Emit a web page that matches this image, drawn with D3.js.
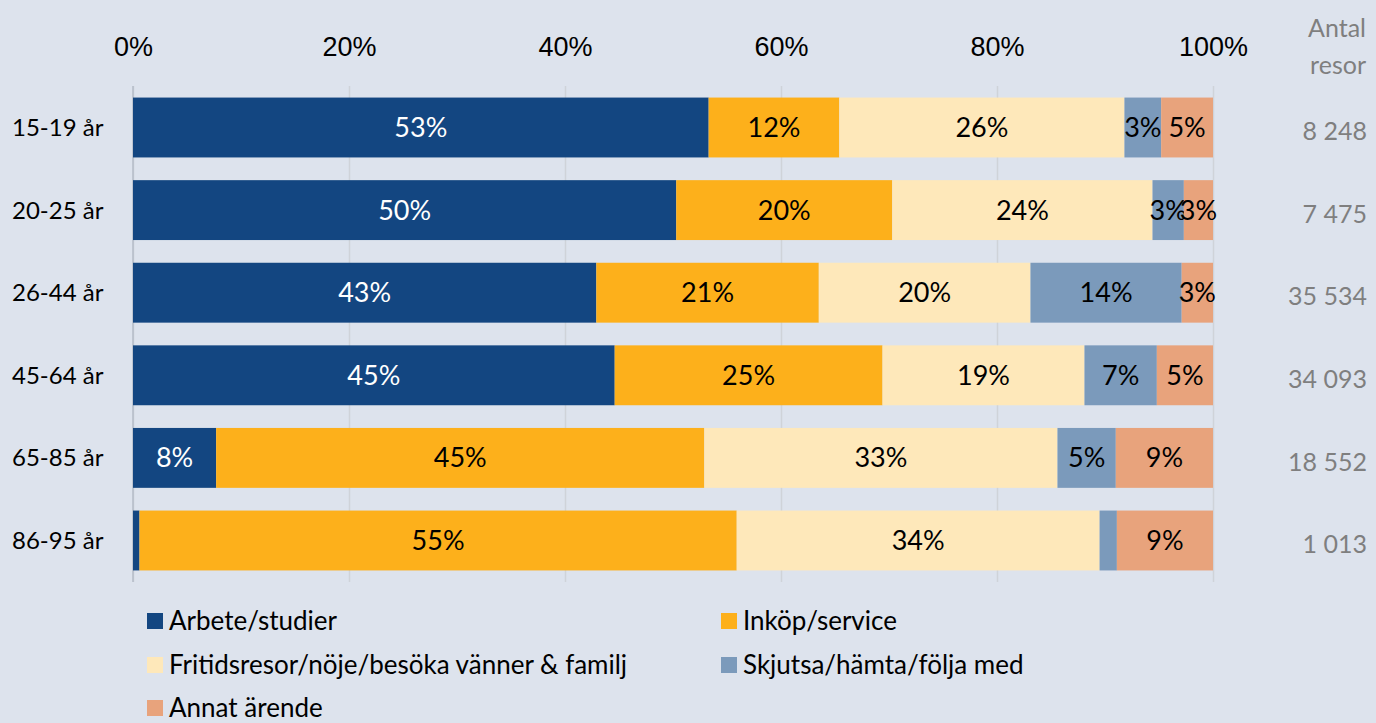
<!DOCTYPE html>
<html>
<head>
<meta charset="utf-8">
<script src="https://cdn.jsdelivr.net/npm/d3@7"></script>
<style>
	body { margin: 0; background: #dde3ed; }
	svg { display: block; font-family: Lato, 'Open Sans', sans-serif; }
	.grid line { stroke: #cfd3d9; stroke-width: 1.5; }
	.grid path { display: none; }
	.x.axis path, .x.axis line { display: none; }
</style>
</head>
<body>
<script>
// age groups and number of trips
var ageGroups = ['15-19 år', '20-25 år', '26-44 år', '45-64 år', '65-85 år', '86-95 år'];
var antalResor = ['8 248', '7 475', '35 534', '34 093', '18 552', '1 013'];

// trip purposes (percent of trips)
var purposes = ['Arbete/studier', 'Inköp/service', 'Fritidsresor/nöje/besöka vänner & familj', 'Skjutsa/hämta/följa med', 'Annat ärende'];
var arbete   = [53.3, 50.3, 42.9, 44.6, 7.7, 0.6];
var inkop    = [12.1, 20.0, 20.6, 24.8, 45.2, 55.3];
var fritid   = [26.4, 24.1, 19.6, 18.7, 32.7, 33.6];
var skjutsa  = [3.4, 2.9, 14.0, 6.7, 5.4, 1.6];
var annat    = [4.8, 2.7, 2.9, 5.2, 9.0, 8.9];
var xTicks = [0, 20, 40, 60, 80, 100];

var colors = ['#134681', '#fdb01b', '#fee8ba', '#7b9abb', '#e8a37c'];
var labelColors = ['#ffffff', '#000000', '#000000', '#000000', '#000000'];

function StackedBarChart() {
	this.chart = {};
	this.props = {};
	this.props.width = 1376;
	this.props.height = 723;
	this.props.plot = { left: 133, right: 1213, top: 86, bottom: 582 };

	var series = [arbete, inkop, fritid, skjutsa, annat];
	this.rows = ageGroups.map(function(g, i) {
		var row = { group: g };
		purposes.forEach(function(p, j) { row[p] = series[j][i]; });
		return row;
	});
}

StackedBarChart.prototype.createChart = function() {
	this.chart.svg = d3.select('body')
		.append('svg')
		.attr('width', this.props.width)
		.attr('height', this.props.height);

	this.chart.x = d3.scaleLinear()
		.domain([0, 100])
		.range([this.props.plot.left, this.props.plot.right]);

	this.chart.y = d3.scaleBand()
		.domain(ageGroups)
		.range([this.props.plot.top, this.props.plot.bottom])
		.paddingInner(0.275)
		.paddingOuter(0.14);
}

StackedBarChart.prototype.addGrid = function() {
	var p = this.props.plot;
	var grid = d3.axisTop(this.chart.x)
		.tickValues(xTicks)
		.tickSize(-(p.bottom - p.top))
		.tickFormat('');
	this.chart.svg.append('g')
		.attr('class', 'grid')
		.attr('transform', 'translate(0,' + p.top + ')')
		.call(grid);

	// baseline at 0%
	this.chart.svg.append('line')
		.attr('x1', this.chart.x(0)).attr('x2', this.chart.x(0))
		.attr('y1', p.top).attr('y2', p.bottom)
		.attr('stroke', '#b4bcc8')
		.attr('stroke-width', 1.5);
}

StackedBarChart.prototype.addXAxis = function() {
	var xAxis = d3.axisTop(this.chart.x)
		.tickValues(xTicks)
		.tickSize(0)
		.tickPadding(0)
		.tickFormat(function(d) { return d + '%'; });

	var g = this.chart.svg.append('g')
		.attr('class', 'x axis')
		.attr('transform', 'translate(0,56)')
		.call(xAxis);
	g.selectAll('text')
		.attr('fill', '#000')
		.style('font-size', '27px');
}

StackedBarChart.prototype.addBars = function() {
	var self = this;
	var stack = d3.stack().keys(purposes)(this.rows);

	var layers = this.chart.svg.append('g')
		.selectAll('g')
		.data(stack)
		.enter().append('g')
			.attr('fill', function(d, i) { return colors[i]; });

	layers.selectAll('rect')
		.data(function(d) { return d; })
		.enter().append('rect')
			.attr('x', function(d) { return self.chart.x(d[0]); })
			.attr('width', function(d) { return self.chart.x(d[1]) - self.chart.x(d[0]); })
			.attr('y', function(d) { return self.chart.y(d.data.group); })
			.attr('height', this.chart.y.bandwidth());

	layers.each(function(layer, i) {
		d3.select(this).selectAll('text')
			.data(layer.filter(function(d) { return d[1] - d[0] >= 2; }))
			.enter().append('text')
				.attr('x', function(d) { return self.chart.x((d[0] + d[1]) / 2); })
				.attr('y', function(d) { return self.chart.y(d.data.group) + self.chart.y.bandwidth() / 2; })
				.attr('dy', '0.35em')
				.attr('text-anchor', 'middle')
				.attr('fill', labelColors[i])
				.style('font-size', '27px')
				.text(function(d) { return Math.round(d[1] - d[0]) + '%'; });
	});
}

StackedBarChart.prototype.addYLabels = function() {
	var self = this;
	this.chart.svg.append('g')
		.selectAll('text')
		.data(ageGroups)
		.enter().append('text')
			.attr('x', 12)
			.attr('y', function(d) { return self.chart.y(d) + self.chart.y.bandwidth() / 2; })
			.attr('dy', '0.35em')
			.style('font-size', '24px')
			.text(function(d) { return d; });
}

StackedBarChart.prototype.addCounts = function() {
	var self = this;
	var g = this.chart.svg.append('g')
		.attr('fill', '#7f7f7f')
		.attr('text-anchor', 'end')
		.style('font-size', '25px');

	g.append('text').attr('x', 1366).attr('y', 37).text('Antal');
	g.append('text').attr('x', 1366).attr('y', 74).text('resor');

	g.selectAll('.count')
		.data(antalResor)
		.enter().append('text')
			.attr('class', 'count')
			.attr('x', 1367)
			.attr('y', function(d, i) { return self.chart.y(ageGroups[i]) + self.chart.y.bandwidth() / 2 + 4; })
			.attr('dy', '0.35em')
			.text(function(d) { return d; });
}

StackedBarChart.prototype.addLegend = function() {
	var cols = [147, 721];
	var rowsY = [621, 665, 708];
	var legend = this.chart.svg.append('g')
		.selectAll('g')
		.data(purposes)
		.enter().append('g')
			.attr('transform', function(d, i) {
				return 'translate(' + cols[i % 2] + ',' + rowsY[Math.floor(i / 2)] + ')';
			});

	legend.append('rect')
		.attr('x', 0).attr('y', -8)
		.attr('width', 16).attr('height', 16)
		.attr('fill', function(d, i) { return colors[i]; });

	legend.append('text')
		.attr('x', 22)
		.attr('dy', '0.35em')
		.style('font-size', '26px')
		.text(function(d) { return d; });
}

var chart = new StackedBarChart();
chart.createChart();
chart.addGrid();
chart.addXAxis();
chart.addBars();
chart.addYLabels();
chart.addCounts();
chart.addLegend();
</script>
</body>
</html>
